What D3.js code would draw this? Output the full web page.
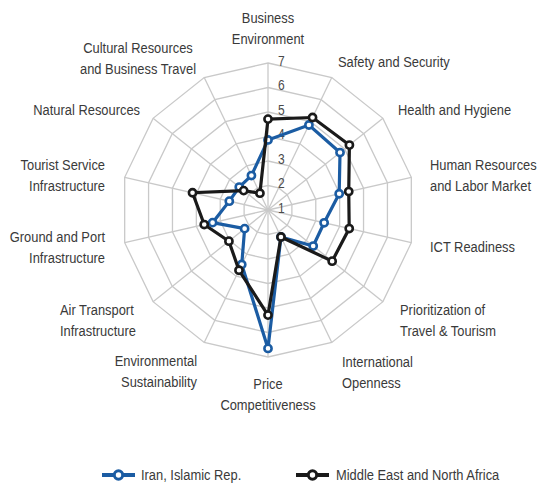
<!DOCTYPE html>
<html><head><meta charset="utf-8">
<script src="https://cdn.jsdelivr.net/npm/d3@7"></script>
<style>
html,body{margin:0;padding:0;background:#fff;}
svg text{font-family:"Liberation Sans","Arial",sans-serif;fill:#3a3a3a;}
</style></head>
<body><svg id="chart" width="540" height="484"></svg>
<script>
const categories = [
  ["Business","Environment"],
  ["Safety and Security"],
  ["Health and Hygiene"],
  ["Human Resources","and Labor Market"],
  ["ICT Readiness"],
  ["Prioritization of","Travel & Tourism"],
  ["International","Openness"],
  ["Price","Competitiveness"],
  ["Environmental","Sustainability"],
  ["Air Transport","Infrastructure"],
  ["Ground and Port","Infrastructure"],
  ["Tourist Service","Infrastructure"],
  ["Natural Resources"],
  ["Cultural Resources","and Business Travel"]
];
const seriesNames = ["Iran, Islamic Rep.", "Middle East and North Africa"];
const iranValues = [3.86, 4.85, 4.76, 3.98, 3.35, 3.36, 2.22, 6.65, 3.47, 2.22, 3.32, 2.62, 2.50, 2.56];
const menaValues = [4.71, 5.19, 5.25, 4.38, 4.40, 4.35, 2.22, 5.29, 3.73, 3.04, 3.67, 4.16, 2.27, 1.76];
const tickLabels = [1, 2, 3, 4, 5, 6, 7];

// layout (positions / styles only)
const cx = 268, cy = 210, R = 147;
const colors = ["#1b5ca3", "#1a1a1a"];
const sx = 0.86; // condensed look
const labelLayout = [
  {x:268, y:18, a:"middle"},
  {x:338, y:62, a:"start"},
  {x:398, y:110, a:"start"},
  {x:430, y:165, a:"start"},
  {x:430, y:247, a:"start"},
  {x:400, y:310, a:"start"},
  {x:342, y:362, a:"start"},
  {x:268, y:384, a:"middle"},
  {x:197, y:361, a:"end"},
  {x:60,  y:310, a:"start"},
  {x:105, y:237, a:"end"},
  {x:105, y:165, a:"end"},
  {x:140, y:110, a:"end"},
  {x:138, y:48, a:"middle"}
];

const svg = d3.select("#chart");
const n = categories.length;
const r = d3.scaleLinear().domain([1, 7]).range([0, R]);
const ang = d3.scaleLinear().domain([0, n]).range([0, 2*Math.PI]);
const pt = (i, v) => [cx + r(v)*Math.sin(ang(i)), cy - r(v)*Math.cos(ang(i))];

function ctext(parent, x, y, size, anchor, lines, lh) {
  const t = parent.append("text").attr("transform", `translate(${x},${y}) scale(${sx},1)`)
    .attr("text-anchor", anchor).attr("font-size", size);
  lines.forEach((ln, k) => t.append("tspan").attr("x", 0).attr("y", k*(lh||21)).attr("dy", "0.35em").text(ln));
  return t;
}

const g = svg.append("g");
// rings
tickLabels.filter(t => t > 1).forEach(t => {
  g.append("polygon")
    .attr("points", d3.range(n).map(i => pt(i, t).join(",")).join(" "))
    .attr("fill", "none").attr("stroke", "#c9c9c9").attr("stroke-width", 1.3);
});
// spokes
d3.range(n).forEach(i => {
  const p = pt(i, 7);
  g.append("line").attr("x1", cx).attr("y1", cy).attr("x2", p[0]).attr("y2", p[1])
    .attr("stroke", "#c9c9c9").attr("stroke-width", 1.3);
});
// tick labels
tickLabels.forEach(d => {
  ctext(g, cx + 10, cy - r(d) - 2, 14, "start", [String(d)]).style("fill", "#4a4a4a");
});

// series
const line = d3.line().curve(d3.curveLinearClosed);
[iranValues, menaValues].forEach((vals, s) => {
  const pts = vals.map((v, i) => pt(i, v));
  g.append("path").attr("d", line(pts)).attr("fill", "none")
    .attr("stroke", colors[s]).attr("stroke-width", 3.2).attr("stroke-linejoin", "miter");
  g.selectAll(null).data(pts).enter().append("circle")
    .attr("cx", d => d[0]).attr("cy", d => d[1]).attr("r", 3.6)
    .attr("fill", "#fff").attr("stroke", colors[s]).attr("stroke-width", 2.6);
});

// category labels
categories.forEach((lines, i) => {
  const L = labelLayout[i];
  ctext(svg, L.x, L.y, 15, L.a, lines, 21);
});

// legend
const legX = [102, 296], legTextX = [141, 336], legY = 475;
seriesNames.forEach((name, s) => {
  const lg = svg.append("g");
  lg.append("line").attr("x1", legX[s]).attr("x2", legX[s] + 33).attr("y1", legY).attr("y2", legY)
    .attr("stroke", colors[s]).attr("stroke-width", 4);
  lg.append("circle").attr("cx", legX[s] + 16.5).attr("cy", legY).attr("r", 4.2)
    .attr("fill", "#fff").attr("stroke", colors[s]).attr("stroke-width", 3);
  ctext(lg, legTextX[s], legY, 15, "start", [name]);
});
</script></body></html>
